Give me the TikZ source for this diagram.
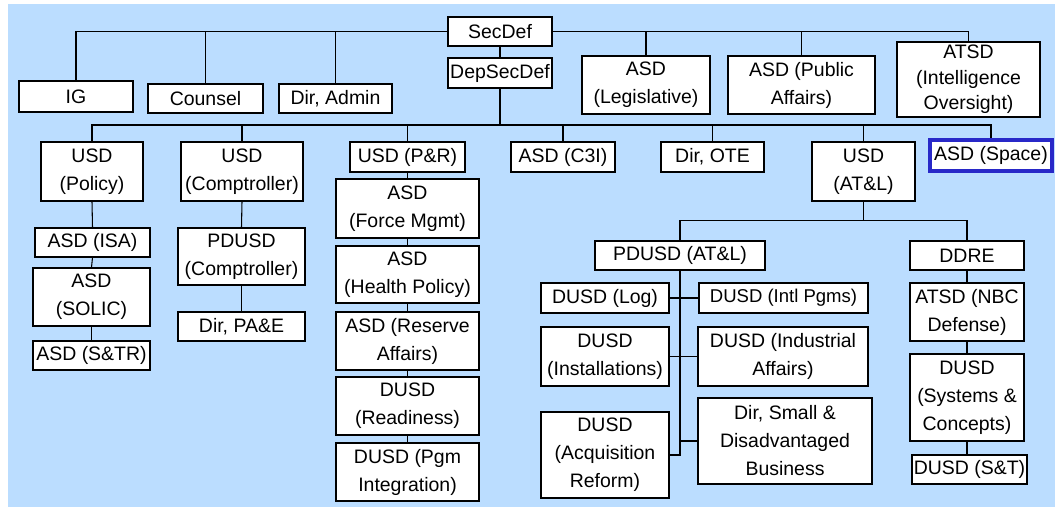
\documentclass[tikz,border=0pt]{standalone}
\usepackage{fontspec}
\setmainfont{Liberation Sans}
\definecolor{bg}{RGB}{187,221,255}
\definecolor{spaceblue}{RGB}{40,40,200}
\tikzset{
  box/.style={draw=black, fill=white, line width=0.8pt, inner sep=0pt, align=center,
    font=\fontsize{14.6}{21}\selectfont},
  conn/.style={draw=black, line width=0.8pt},
  busline/.style={draw=black, line width=1.6pt},
}
\newcommand\bx[7][]{\node[box,minimum width={(#5-#3)*0.75pt},minimum height={(#6-#4)*0.75pt},#1] (#2) at ({(#3+#5)/2},{(#4+#6)/2}) {#7};}
\begin{document}
\begin{tikzpicture}[x=0.75pt,y=-0.75pt]
\useasboundingbox (0,0) rectangle (1055,510);
\fill[bg] (8,4) rectangle (1055,507);

% top level
\bx{SecDef}{448}{17}{552}{46}{SecDef}
\bx{DepSecDef}{448}{58}{552}{88}{DepSecDef}
\bx{IG}{19}{81}{133}{112}{IG}
\bx{Counsel}{148}{84}{263}{113}{Counsel}
\bx{DirAdmin}{279}{84}{392}{113}{Dir, Admin}
\bx{Leg}{582}{56}{710}{114}{ASD\\(Legislative)}
\bx{PubAff}{728}{56}{875}{114}{ASD (Public\\Affairs)}
\bx[font=\fontsize{14.6}{19}\selectfont]{ATSD}{897}{42}{1040}{117}{ATSD\\(Intelligence\\Oversight)}

% second level
\bx{Policy}{41}{142}{143}{201}{USD\\(Policy)}
\bx{Compt}{181}{142}{303}{201}{USD\\(Comptroller)}
\bx{PR}{350}{142}{465}{172}{USD (P\&R)}
\bx{C3I}{511}{142}{615}{172}{ASD (C3I)}
\bx{OTE}{661}{142}{764}{172}{Dir, OTE}
\bx{ATL}{812}{142}{915}{201}{USD\\(AT\&L)}
\bx[draw=spaceblue,line width=3pt]{Space}{930}{140}{1052}{171}{ASD (Space)}

% policy column
\bx{ISA}{35}{228}{150}{257}{ASD (ISA)}
\bx{SOLIC}{33}{268}{150}{326}{ASD\\(SOLIC)}
\bx{STR}{33}{341}{150}{370}{ASD (S\&TR)}

% comptroller column
\bx{PDC}{178}{228}{305}{285}{PDUSD\\(Comptroller)}
\bx{PAE}{178}{312}{305}{341}{Dir, PA\&E}

% P&R column
\bx{Force}{336}{179}{479}{238}{ASD\\(Force Mgmt)}
\bx{Health}{336}{246}{479}{303}{ASD\\(Health Policy)}
\bx{Reserve}{336}{312}{479}{370}{ASD (Reserve\\Affairs)}
\bx{Ready}{336}{377}{479}{435}{DUSD\\(Readiness)}
\bx{Pgm}{336}{443}{479}{501}{DUSD (Pgm\\Integration)}

% AT&L
\bx{PDATL}{595}{241}{765}{270}{PDUSD (AT\&L)}
\bx{Log}{541}{283}{669}{313}{DUSD (Log)}
\bx[font=\fontsize{13.9}{21}\selectfont]{Intl}{699}{283}{868}{313}{DUSD (Intl Pgms)}
\bx{Inst}{541}{327}{669}{386}{DUSD\\(Installations)}
\bx{Ind}{698}{327}{868}{386}{DUSD (Industrial\\Affairs)}
\bx{Small}{698}{398}{872}{484}{Dir, Small \&\\Disadvantaged\\Business}
\bx{Acq}{541}{412}{669}{498}{DUSD\\(Acquisition\\Reform)}

% DDRE
\bx{DDRE}{910}{241}{1024}{270}{DDRE}
\bx{NBC}{910}{283}{1024}{341}{ATSD (NBC\\Defense)}
\bx{SC}{910}{354}{1024}{441}{DUSD\\(Systems \&\\Concepts)}
\bx{ST}{912}{455}{1027}{484}{DUSD (S\&T)}

% connectors: top
\draw[conn] (SecDef.west) -| (IG.north);
\draw[conn] (SecDef.west) -| (Counsel.north);
\draw[conn] (SecDef.west) -| (DirAdmin.north);
\draw[conn] (SecDef.east) -| (Leg.north);
\draw[conn] (SecDef.east) -| (PubAff.north);
\draw[conn] (SecDef.east) -| (ATSD.north);
\draw[conn] (SecDef.south) -- (DepSecDef.north);

% bus
\coordinate (bus) at (500,125);
\draw[conn] (DepSecDef.south) -- (bus);
\foreach \c in {Policy,Compt,PR,C3I,OTE,ATL,Space}
  \draw[conn] (bus) -| (\c.north);
\draw[busline] (bus -| Policy.north) -- (bus -| OTE.north);

% columns
\draw[conn] (Policy.south) -- (ISA.north);
\draw[conn] (ISA.south) -- (SOLIC.north);
\draw[conn] (SOLIC.south) -- (STR.north);
\draw[conn] (Compt.south) -- (PDC.north);
\draw[conn] (PDC.south) -- (PAE.north);
\draw[conn] (PR.south) -- (Force.north);
\draw[conn] (Force.south) -- (Health.north);
\draw[conn] (Health.south) -- (Reserve.north);
\draw[conn] (Reserve.south) -- (Ready.north);
\draw[conn] (Ready.south) -- (Pgm.north);

% AT&L
\path (ATL.south) ++(0,19) coordinate (atlbus);
\draw[conn] (ATL.south) -- (atlbus) -| (PDATL.north);
\draw[conn] (atlbus) -| (DDRE.north);
\draw[conn] (PDATL.south) |- (Acq.east);
\draw[conn] (Log.east) -- (Intl.west);
\draw[conn] (Inst.east) -- (Ind.west);
\draw[conn] (Small.west) -- (Small.west -| PDATL.south);
\draw[conn] (DDRE.south) -- (NBC.north);
\draw[conn] (NBC.south) -- (SC.north);
\draw[conn] (SC.south) -- (SC.south |- ST.north);
\end{tikzpicture}
\end{document}
